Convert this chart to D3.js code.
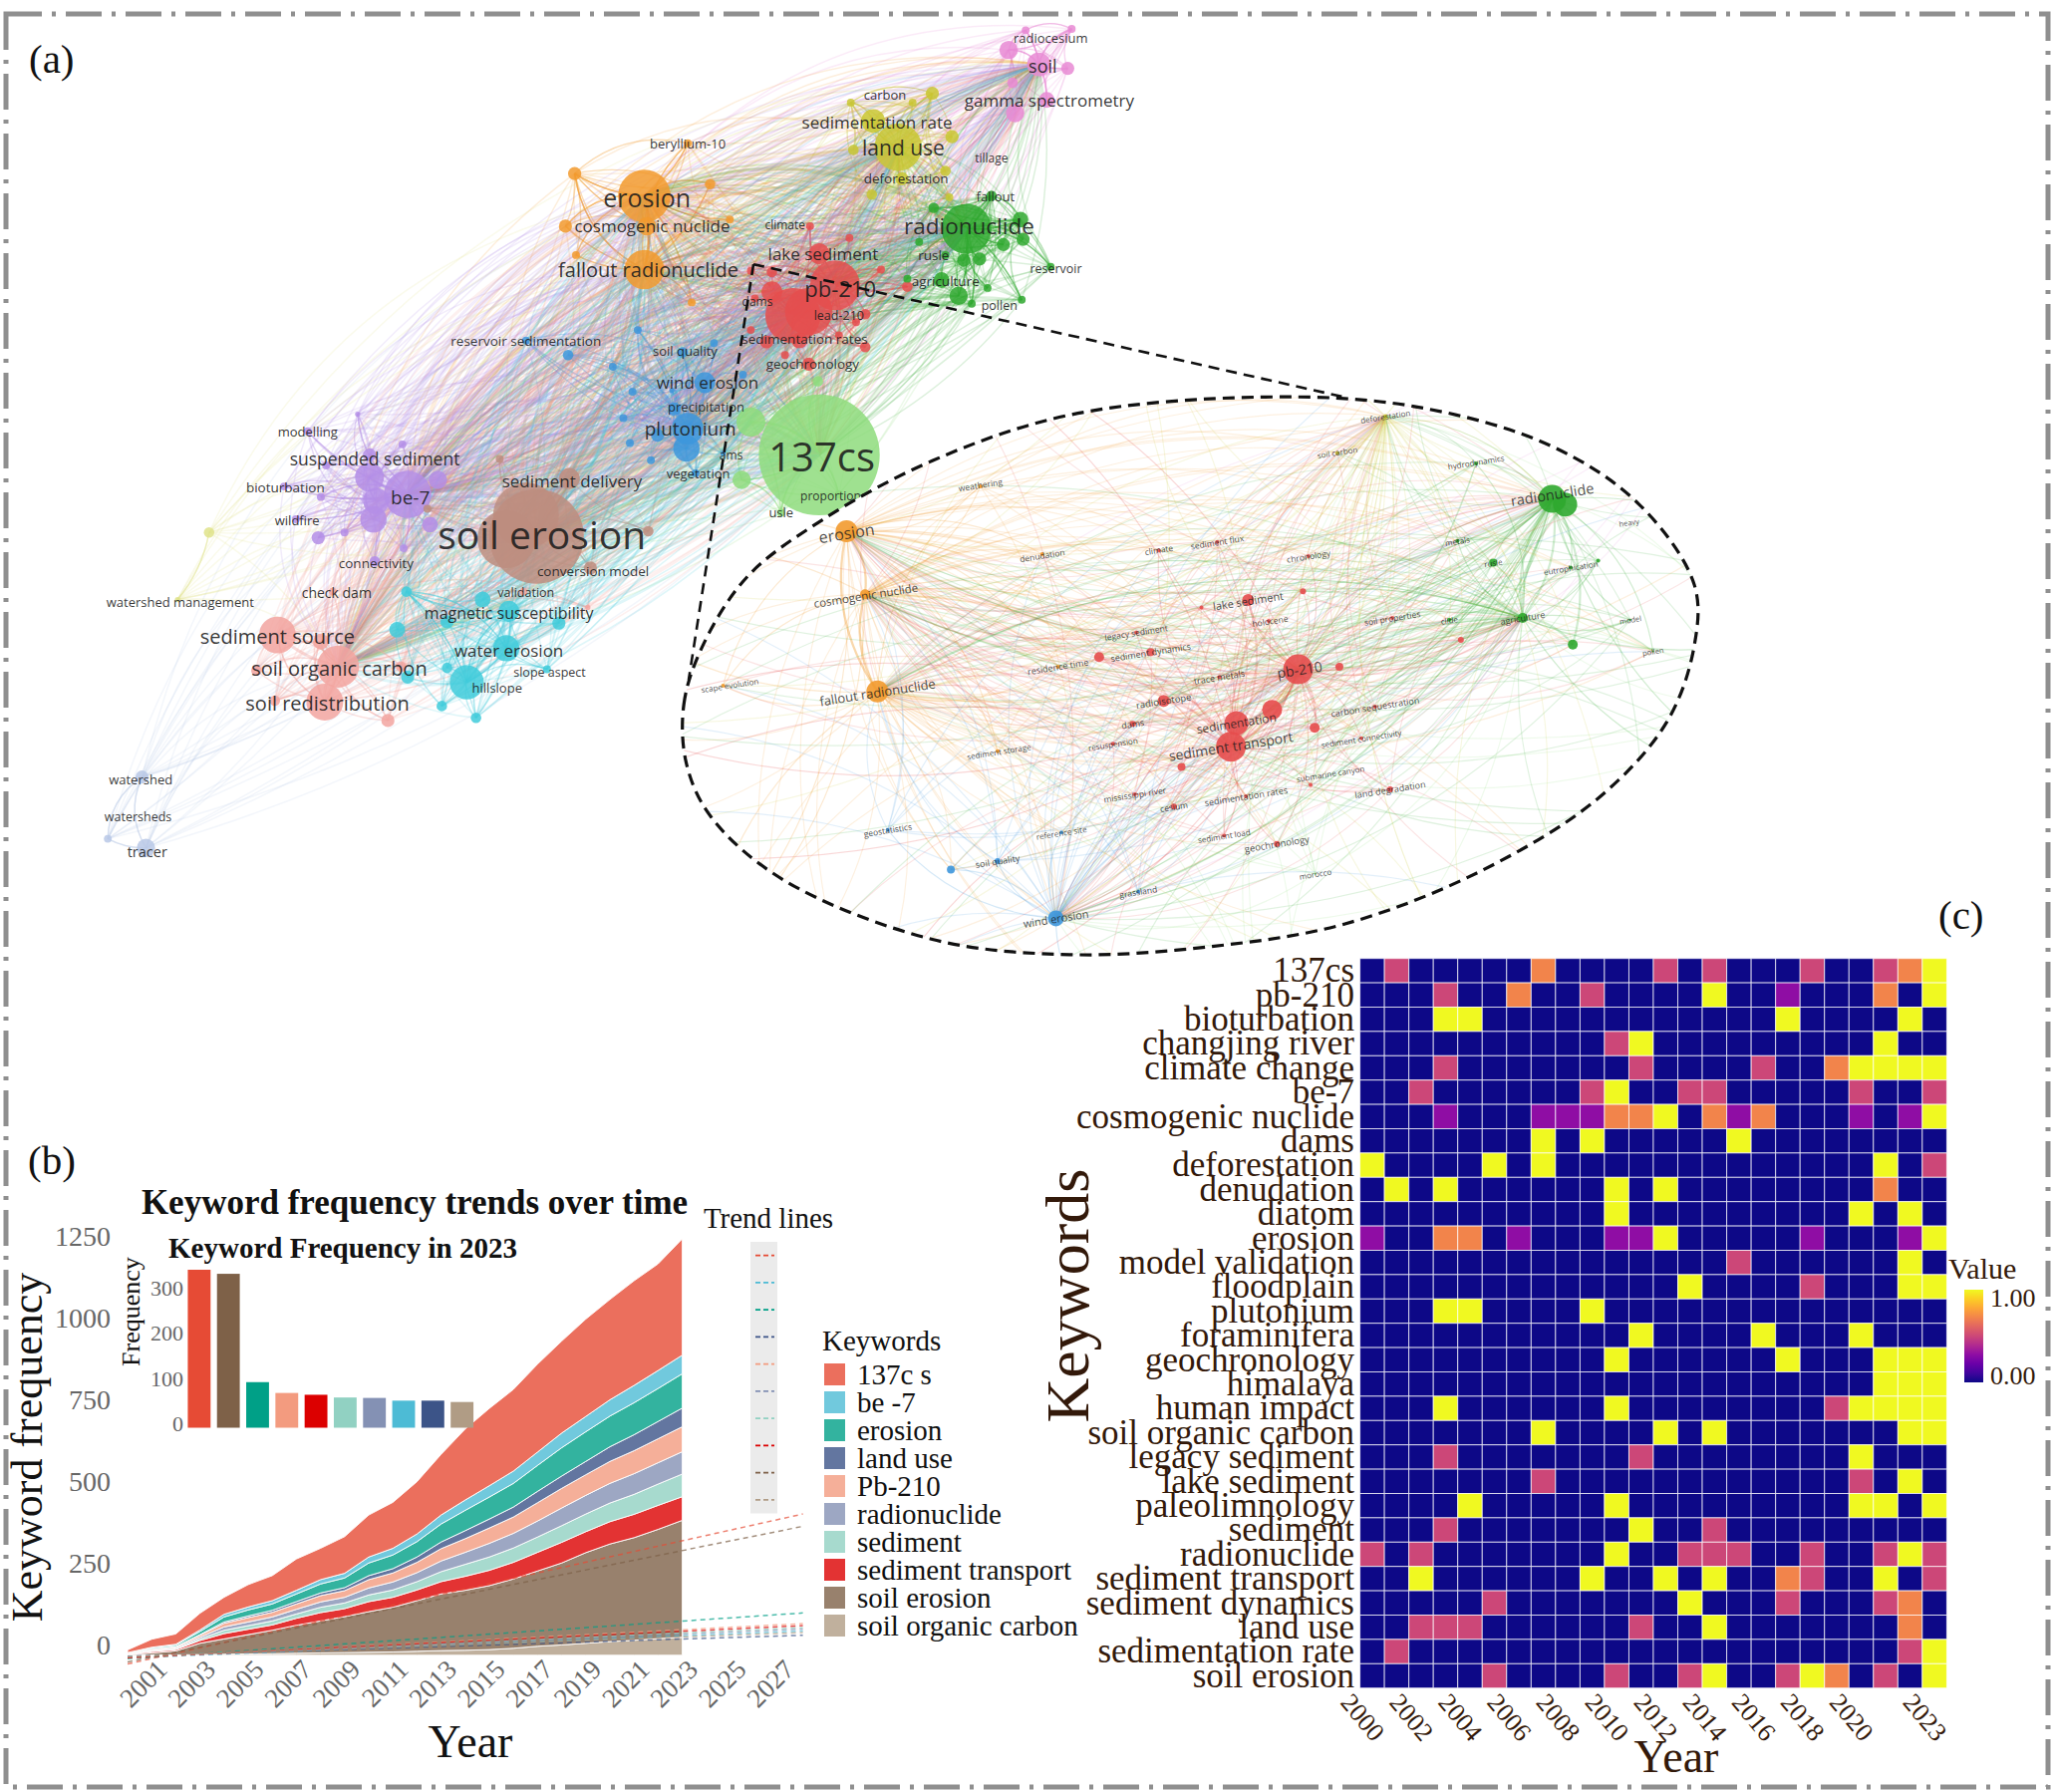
<!DOCTYPE html>
<html>
<head>
<meta charset="utf-8">
<script src="https://cdnjs.cloudflare.com/ajax/libs/d3/7.8.5/d3.min.js"></script>
<style>
  html, body { margin: 0; padding: 0; background: #fff; }
  svg { display: block; }
  text { font-family: "Liberation Serif", serif; }
  .net text { font-family: "Open Sans", sans-serif; fill: #1c1c1c; }
  .axis path, .axis line { display: none; }
</style>
</head>
<body>
<svg id="chart" width="2061" height="1798"></svg>
<script>
// ---- (b) keyword frequency
const years = d3.range(2000, 2024);
const keywords = ["137c s", "be -7", "erosion", "land use", "Pb-210", "radionuclide", "sediment", "sediment transport", "soil erosion", "soil organic carbon"];
const keywordColors = ["#e64b35", "#4dbbd5", "#00a087", "#3c5488", "#f39b7f", "#8491b4", "#91d1c2", "#dc0000", "#7e6148", "#b09c85"];
const freqCs137 = [8, 24, 31, 50, 51, 67, 75, 94, 94, 110, 126, 138, 157, 182, 213, 232, 245, 264, 276, 292, 301, 314, 320, 349];
const freqBe7 = [1, 2, 3, 5, 8, 9, 10, 11, 13, 14, 18, 20, 23, 27, 31, 34, 37, 40, 44, 46, 49, 52, 54, 56];
const freqErosion = [1, 3, 4, 9, 15, 18, 19, 23, 27, 29, 38, 41, 46, 54, 61, 66, 71, 78, 85, 89, 92, 96, 99, 103];
const freqLandUse = [0, 1, 1, 2, 4, 5, 6, 7, 8, 9, 12, 13, 16, 20, 24, 27, 30, 34, 37, 40, 44, 48, 52, 56];
const freqPb210 = [1, 3, 3, 6, 11, 13, 14, 16, 19, 20, 25, 27, 31, 37, 41, 46, 49, 55, 59, 62, 66, 69, 72, 75];
const freqRadionuclide = [1, 2, 3, 5, 10, 11, 12, 14, 16, 17, 21, 24, 27, 32, 36, 41, 44, 48, 53, 56, 59, 62, 64, 67];
const freqSediment = [1, 2, 2, 5, 10, 11, 12, 13, 16, 17, 20, 22, 25, 30, 36, 40, 43, 46, 50, 53, 56, 60, 64, 68];
const freqTransport = [1, 4, 4, 8, 16, 16, 16, 21, 25, 24, 30, 30, 32, 37, 42, 46, 50, 56, 62, 63, 67, 70, 72, 71];
const freqSoilErosion = [2, 6, 12, 34, 46, 58, 70, 84, 96, 108, 122, 134, 152, 170, 180, 192, 208, 226, 246, 272, 293, 308, 328, 351];
const freqSoc = [0, 1, 1, 2, 3, 4, 5, 6, 7, 8, 9, 10, 12, 14, 15, 17, 21, 27, 31, 36, 41, 45, 50, 54];
const freqSeries = [freqCs137, freqBe7, freqErosion, freqLandUse, freqPb210, freqRadionuclide, freqSediment, freqTransport, freqSoilErosion, freqSoc];

// dashed trend lines, value at 2000 and at 2028, same order as keywords
const trendStart = [-26, -8, -10, -3, -8, -6, -5, -7, -20, -4];
const trendEnd = [424, 73, 127, 60, 95, 79, 83, 89, 387, 68];

// inset bars, frequency in 2023
const barOrder = [0, 8, 2, 4, 7, 6, 5, 1, 3, 9];
const barValues = [350, 341, 101, 77, 73, 67, 66, 60, 60, 57];

// ---- (c) heatmap
const heatYears = d3.range(2000, 2024);
const heatTicks = [2000, 2002, 2004, 2006, 2008, 2010, 2012, 2014, 2016, 2018, 2020, 2023];
const heatKeywords = ["137cs", "pb-210", "bioturbation", "changjing river", "climate change", "be-7", "cosmogenic nuclide", "dams", "deforestation", "denudation", "diatom", "erosion", "model validation", "floodplain", "plutonium", "foraminifera", "geochronology", "himalaya", "human impact", "soil organic carbon", "legacy sediment", "lake sediment", "paleolimnology", "sediment", "radionuclide", "sediment transport", "sediment dynamics", "land use", "sedimentation rate", "soil erosion"];
const heatValues = [
  [0, .5, 0, 0, 0, 0, 0, .7, 0, 0, 0, 0, .5, 0, .5, 0, 0, 0, .5, 0, 0, .5, .7, 1],
  [0, 0, 0, .5, 0, 0, .7, 0, 0, .5, 0, 0, 0, 0, 1, 0, 0, .3, 0, 0, 0, .7, 0, 1],
  [0, 0, 0, 1, 1, 0, 0, 0, 0, 0, 0, 0, 0, 0, 0, 0, 0, 1, 0, 0, 0, 0, 1, 0],
  [0, 0, 0, 0, 0, 0, 0, 0, 0, 0, .5, 1, 0, 0, 0, 0, 0, 0, 0, 0, 0, 1, 0, 0],
  [0, 0, 0, .5, 0, 0, 0, 0, 0, 0, 0, .5, 0, 0, 0, 0, .5, 0, 0, .7, 1, 1, 1, 1],
  [0, 0, .5, 0, 0, 0, 0, 0, 0, .5, 1, 0, 0, .5, .5, 0, 0, 0, 0, 0, .5, 0, 0, .5],
  [0, 0, 0, .3, 0, 0, 0, .3, .3, .3, .7, .7, 1, 0, .7, .3, .7, 0, 0, 0, .3, 0, .3, 1],
  [0, 0, 0, 0, 0, 0, 0, 1, 0, 1, 0, 0, 0, 0, 0, 1, 0, 0, 0, 0, 0, 0, 0, 0],
  [1, 0, 0, 0, 0, 1, 0, 1, 0, 0, 0, 0, 0, 0, 0, 0, 0, 0, 0, 0, 0, 1, 0, .5],
  [0, 1, 0, 1, 0, 0, 0, 0, 0, 0, 1, 0, 1, 0, 0, 0, 0, 0, 0, 0, 0, .7, 0, 0],
  [0, 0, 0, 0, 0, 0, 0, 0, 0, 0, 1, 0, 0, 0, 0, 0, 0, 0, 0, 0, 1, 0, 1, 0],
  [.3, 0, 0, .7, .7, 0, .3, 0, 0, 0, .3, .3, 1, 0, 0, 0, 0, 0, .3, 0, 0, 0, .3, 1],
  [0, 0, 0, 0, 0, 0, 0, 0, 0, 0, 0, 0, 0, 0, 0, .5, 0, 0, 0, 0, 0, 0, 1, 0],
  [0, 0, 0, 0, 0, 0, 0, 0, 0, 0, 0, 0, 0, 1, 0, 0, 0, 0, .5, 0, 0, 0, 1, 1],
  [0, 0, 0, 1, 1, 0, 0, 0, 0, 1, 0, 0, 0, 0, 0, 0, 0, 0, 0, 0, 0, 0, 0, 0],
  [0, 0, 0, 0, 0, 0, 0, 0, 0, 0, 0, 1, 0, 0, 0, 0, 1, 0, 0, 0, 1, 0, 0, 0],
  [0, 0, 0, 0, 0, 0, 0, 0, 0, 0, 1, 0, 0, 0, 0, 0, 0, 1, 0, 0, 0, 1, 1, 1],
  [0, 0, 0, 0, 0, 0, 0, 0, 0, 0, 0, 0, 0, 0, 0, 0, 0, 0, 0, 0, 0, 1, 1, 1],
  [0, 0, 0, 1, 0, 0, 0, 0, 0, 0, 1, 0, 0, 0, 0, 0, 0, 0, 0, .5, 1, 1, 1, 1],
  [0, 0, 0, 0, 0, 0, 0, 1, 0, 0, 0, 0, 1, 0, 1, 0, 0, 0, 0, 0, 0, 0, 1, 1],
  [0, 0, 0, .5, 0, 0, 0, 0, 0, 0, 0, .5, 0, 0, 0, 0, 0, 0, 0, 0, 1, 0, 0, 0],
  [0, 0, 0, 0, 0, 0, 0, .5, 0, 0, 0, 0, 0, 0, 0, 0, 0, 0, 0, 0, .5, 0, 1, 0],
  [0, 0, 0, 0, 1, 0, 0, 0, 0, 0, 1, 0, 0, 0, 0, 0, 0, 0, 0, 0, 1, 1, 0, 1],
  [0, 0, 0, .5, 0, 0, 0, 0, 0, 0, 0, 1, 0, 0, .5, 0, 0, 0, 0, 0, 0, 0, 0, 0],
  [.5, 0, .5, 0, 0, 0, 0, 0, 0, 0, 1, 0, 0, .5, .5, .5, 0, 0, .5, 0, 0, .5, 1, .5],
  [0, 0, 1, 0, 0, 0, 0, 0, 0, 1, 0, 0, 1, 0, 1, 0, 0, .7, .5, 0, 0, 1, 0, .5],
  [0, 0, 0, 0, 0, .5, 0, 0, 0, 0, 0, 0, 0, 1, 0, 0, 0, .5, 0, 0, 0, .5, .7, 0],
  [0, 0, .5, .5, .5, 0, 0, 0, 0, 0, 0, .5, 0, 0, 1, 0, 0, 0, 0, 0, 0, 0, .7, 0],
  [0, .5, 0, 0, 0, 0, 0, 0, 0, 0, 0, 0, 0, 0, 0, 0, 0, 0, 0, 0, 0, 0, .5, 1],
  [0, 0, 0, 0, 0, .5, 0, 0, 0, 0, .5, 0, 0, .5, 1, 0, 0, .5, 1, .7, 0, .5, 0, 1]
];

// ---- (a) co-occurrence map: [map x, map y, node radius], first node of a cluster is its hub
const nodesPink = [[790, 49, 9], [767, 38, 7], [780, 23, 3], [815, 22, 3], [812, 52, 5], [770, 63, 4], [796, 76, 6], [772, 86, 7]];
const nodesOlive = [[683, 112, 18], [664, 92, 9], [647, 78, 3], [709, 71, 5], [694, 78, 3], [724, 104, 5], [649, 114, 4], [686, 136, 5], [719, 130, 4], [663, 148, 4], [722, 150, 3]];
const nodesOrange = [[490, 149, 20], [490, 205, 15], [492, 172, 7], [437, 132, 5], [540, 140, 4], [523, 109, 3], [430, 172, 5], [555, 167, 3], [438, 194, 3], [526, 230, 3]];
const nodesGreen = [[735, 174, 19], [754, 149, 4], [710, 158, 4], [776, 167, 6], [778, 182, 5], [763, 186, 5], [745, 197, 5], [733, 198, 5], [699, 184, 3], [719, 194, 3], [716, 213, 6], [729, 225, 7], [751, 219, 3], [777, 228, 3], [799, 203, 3], [739, 231, 3], [690, 212, 3]];
const nodesRed = [[635, 217, 19], [603, 240, 21], [615, 237, 18], [587, 222, 8], [623, 193, 8], [616, 172, 3], [646, 181, 3], [670, 205, 3], [587, 207, 4], [571, 206, 3], [574, 227, 3], [658, 239, 4], [651, 245, 3], [658, 264, 4], [608, 259, 6], [583, 260, 5], [638, 255, 3], [571, 251, 3], [615, 277, 5], [597, 270, 3], [690, 218, 4]];
const nodesBlue = [[523, 326, 12], [522, 341, 10], [536, 291, 8], [513, 311, 5], [400, 259, 3], [432, 270, 4], [485, 251, 3], [466, 279, 3], [519, 268, 4], [543, 261, 3], [565, 285, 3], [481, 298, 3], [511, 297, 2], [474, 318, 3], [479, 337, 3], [495, 350, 3], [500, 331, 5], [529, 360, 3], [550, 345, 2]];
const nodesLight = [[623, 346, 46], [571, 321, 11], [564, 365, 7], [594, 390, 3], [638, 376, 3], [622, 290, 4]];
const nodesPurple = [[310, 376, 18], [286, 381, 10], [281, 363, 11], [284, 395, 10], [281, 346, 5], [333, 365, 7], [234, 328, 3], [272, 315, 2], [306, 338, 3], [248, 354, 3], [216, 370, 3], [244, 378, 3], [225, 395, 3], [327, 399, 6], [242, 409, 5], [262, 405, 3], [307, 417, 3], [285, 427, 4]];
const nodesBrown = [[408, 408, 36], [400, 392, 25], [385, 410, 22], [433, 364, 8], [449, 432, 5], [493, 404, 4], [380, 349, 3], [325, 387, 3]];
const nodesSalmon = [[257, 507, 16], [211, 483, 14], [247, 534, 14], [244, 488, 6], [195, 510, 4], [209, 533, 4], [295, 548, 5], [253, 450, 3], [305, 507, 4], [398, 450, 3], [447, 462, 2]];
const nodesCyan = [[355, 519, 13], [385, 493, 10], [387, 465, 8], [309, 450, 4], [367, 456, 6], [340, 473, 5], [425, 474, 5], [302, 479, 6], [340, 508, 4], [310, 515, 5], [416, 509, 3], [336, 537, 4], [362, 546, 4]];
const nodesPaleBlue = [[111, 645, 7], [108, 591, 5], [82, 638, 3]];
const nodesPaleOlive = [[159, 405, 4], [135, 456, 2]];
const netClusters = [nodesPink, nodesOlive, nodesOrange, nodesGreen, nodesRed, nodesBlue, nodesLight, nodesPurple, nodesBrown, nodesSalmon, nodesCyan, nodesPaleBlue, nodesPaleOlive];
const clusterColors = ["#e78ad4", "#c9c733", "#f29a2e", "#2fa82f", "#e54d4d", "#3d96dc", "#8edc7c", "#b48ee6", "#bd8d7f", "#f2a5a0", "#3fcbdb", "#b8c8e6", "#dfe38a"];
// links are too many to read one by one: every node connects to these hubs, as [cluster, node]
const netHubs = [[6, 0], [8, 0], [4, 0], [4, 1], [2, 0], [2, 1], [3, 0], [1, 0], [7, 0], [9, 0], [0, 0], [5, 0]];

const netLabels = [
  ["radiocesium", 799, 29, 13], ["soil", 793, 50, 18], ["gamma spectrometry", 798, 76, 17], ["carbon", 673, 72, 13],
  ["sedimentation rate", 667, 93, 17], ["land use", 687, 112, 21], ["tillage", 754, 120, 12], ["beryllium-10", 523, 109, 13],
  ["deforestation", 689, 136, 13.5], ["fallout", 757, 149, 13], ["erosion", 492, 150, 25], ["cosmogenic nuclide", 496, 172, 17],
  ["climate", 597, 171, 12], ["radionuclide", 737, 172, 22.5], ["lake sediment", 626, 193, 17], ["rusle", 710, 194, 13.5],
  ["fallout radionuclide", 493, 205, 20], ["reservoir", 803, 204, 12.5], ["pb-210", 639, 219, 22], ["agriculture", 719, 214, 13.5],
  ["dams", 576, 229, 12], ["pollen", 760, 232, 12.5], ["lead-210", 638, 240, 12.5], ["sedimentation rates", 612, 258, 13.5],
  ["reservoir sedimentation", 400, 259, 13.5], ["soil quality", 521, 267, 13], ["geochronology", 618, 277, 13.5], ["wind erosion", 538, 291, 17],
  ["precipitation", 537, 309, 13], ["plutonium", 525, 326, 19], ["modelling", 234, 328, 13], ["137cs", 625, 347, 40],
  ["suspended sediment", 285, 349, 17.5], ["ams", 556, 346, 12], ["vegetation", 531, 360, 13], ["sediment delivery", 435, 366, 17],
  ["bioturbation", 217, 371, 13.5], ["be-7", 312, 378, 19], ["proportional model", 650, 377, 12], ["usle", 594, 390, 13],
  ["wildfire", 226, 396, 13], ["soil erosion", 412, 406, 39], ["connectivity", 286, 428, 13.5], ["conversion model", 451, 434, 13.5],
  ["check dam", 256, 451, 14], ["validation", 400, 451, 12.5], ["watershed management", 137, 458, 13], ["magnetic susceptibility", 387, 466, 16],
  ["sediment source", 211, 484, 20], ["water erosion", 387, 495, 17], ["slope aspect", 418, 511, 12.5], ["soil organic carbon", 258, 508, 20],
  ["hillslope", 378, 523, 13], ["soil redistribution", 249, 535, 20], ["watershed", 107, 593, 13], ["watersheds", 105, 621, 12.5], ["tracer", 112, 648, 14.5]
];

// magnified part of the map: [zoom x, zoom y, node radius, cluster]
const lensNodes = [
  [275, 400, 11, 2], [320, 820, 11, 2], [302, 565, 5, 2], [95, 805, 2, 2], [470, 282, 2, 2], [560, 460, 2, 2], [495, 977, 2, 2], [583, 755, 2, 2],
  [933, 762, 15, 4], [835, 965, 15, 4], [843, 903, 12, 4], [895, 868, 10, 4], [860, 580, 6, 4], [737, 845, 6, 4], [718, 717, 4, 4], [643, 730, 5, 4],
  [993, 755, 4, 4], [957, 915, 5, 4], [763, 1018, 4, 4], [940, 557, 3, 4], [792, 600, 2, 4], [730, 450, 2, 4], [815, 428, 2, 4], [948, 465, 2, 4],
  [890, 635, 2, 4], [697, 665, 2, 4], [818, 782, 2, 4], [692, 905, 3, 4], [1045, 860, 2, 4], [1025, 943, 2, 4], [663, 957, 2, 4], [951, 1065, 2, 4],
  [1067, 1077, 3, 4], [857, 1095, 2, 4], [695, 1090, 2, 4], [752, 1122, 3, 4], [825, 1198, 2, 4], [902, 1220, 3, 4], [1070, 627, 2, 4], [1170, 685, 3, 4],
  [1303, 315, 14, 3], [1322, 330, 12, 3], [1192, 222, 2, 3], [1165, 425, 2, 3], [1217, 482, 4, 3], [1330, 495, 2, 3], [1370, 477, 2, 3], [1153, 632, 2, 3],
  [1260, 627, 5, 3], [1333, 697, 5, 3], [1417, 632, 1, 3], [1450, 715, 1, 3], [958, 1298, 1, 6],
  [990, 195, 2, 1], [1060, 98, 2, 1],
  [580, 1415, 8, 5], [495, 1265, 3, 5], [427, 1287, 4, 5], [335, 1183, 2, 5], [588, 1190, 2, 5], [700, 1345, 2, 5]
];
const lensHubs = [0, 1, 2, 8, 9, 40, 48, 54, 55];
// hidden ends of links that leave the magnified region: [zoom x, zoom y, cluster]
const lensExits = [[-200, 1200, 4], [60, 1550, 2], [300, 1700, 4], [900, 1800, 6], [1400, 1500, 6], [1750, 600, 3], [1100, -120, 1], [400, -120, 4], [-150, 500, 2], [1650, 1100, 3], [650, 1700, 5], [1500, 60, 0], [-100, 900, 4], [1200, 1650, 1], [1700, 250, 6], [700, -150, 1], [180, 1600, 8], [1650, 850, 6]];
const lensLabels = [
  ["erosion", 275, 405, 16], ["cosmogenic nuclide", 303, 568, 11.5], ["fallout radionuclide", 320, 822, 13], ["scape evolution", 105, 803, 8], ["weathering", 470, 278, 8.5],
  ["denudation", 560, 463, 8.5], ["sediment storage", 497, 977, 8], ["residence time", 583, 755, 9], ["climate", 730, 448, 8.5], ["sediment flux", 815, 428, 8.5],
  ["chronology", 948, 465, 8.5], ["lake sediment", 860, 582, 11], ["holocene", 892, 635, 8.5], ["legacy sediment", 697, 665, 8.5], ["sediment dynamics", 718, 717, 9],
  ["trace metals", 818, 782, 9], ["pb-210", 935, 762, 14], ["radioisotope", 737, 845, 9.5], ["sedimentation", 843, 903, 12], ["dams", 692, 905, 9],
  ["sediment transport", 835, 963, 14], ["carbon sequestration", 1045, 860, 9], ["sediment connectivity", 1025, 943, 8], ["resuspension", 663, 957, 8], ["submarine canyon", 980, 1035, 8],
  ["land degradation", 1067, 1077, 9], ["sedimentation rates", 857, 1095, 9], ["mississippi river", 695, 1090, 8.5], ["cesium", 752, 1122, 8.5], ["sediment load", 825, 1198, 8],
  ["geochronology", 902, 1220, 9.5], ["morocco", 958, 1298, 8], ["soil properties", 1070, 627, 8.5], ["radionuclide", 1303, 303, 14.5], ["hydrodynamics", 1192, 218, 8],
  ["soil carbon", 990, 192, 8], ["deforestation", 1060, 98, 8], ["metals", 1165, 425, 8], ["rusle", 1217, 482, 8], ["eutrophication", 1330, 495, 8],
  ["clide", 1153, 632, 8], ["agriculture", 1260, 627, 9], ["model", 1417, 632, 7.5], ["pollen", 1450, 715, 7.5], ["heavy", 1415, 377, 7.5],
  ["geostatistics", 335, 1183, 8.5], ["reference site", 588, 1190, 8], ["soil quality", 495, 1265, 9], ["grassland", 700, 1345, 8.5], ["wind erosion", 580, 1415, 11]
];
// dashed outline of the magnified region, zoom coordinates
const lensOutline = [[42, 1011], [38, 854], [64, 706], [130, 520], [240, 370], [400, 215], [600, 95], [880, 48], [1100, 72], [1300, 175], [1430, 330], [1510, 540], [1510, 700], [1470, 900], [1370, 1100], [1200, 1290], [1000, 1430], [800, 1490], [600, 1510], [400, 1470], [183, 1314], [78, 1150]];
// where the two guide lines leave the map and meet the outline
const guideFrom = [573, 201];
const guideTo = [[1005, 50], [45, 790]];

const svg = d3.select("#chart");
const serif = "'Liberation Serif', serif";

// curved link: side 1 bulges to the upper left, side -1 to the lower right
function arc(x1, y1, x2, y2, side, up, down) {
  let nx = -(y2 - y1), ny = x2 - x1;
  if (nx + ny > 0) { nx = -nx; ny = -ny; }
  const b = side > 0 ? up : -down;
  return `M${x1},${y1}Q${(x1 + x2) / 2 + nx * b},${(y1 + y2) / 2 + ny * b} ${x2},${y2}`;
}

function drawMap() {
  const mapScale = d3.scaleLinear().domain([0, 1562]).range([0, 2061]);
  const mapY = d3.scaleLinear().domain([0, 1363]).range([0, 1798]);
  const g = svg.append("g").attr("class", "net");

  const allNodes = [];
  netClusters.forEach((nodes, c) => nodes.forEach((n, i) => allNodes.push({ x: mapScale(n[0]), y: mapY(n[1]), r: mapScale(n[2]), c, i })));
  const hubs = netHubs.map((h) => allNodes.find((n) => n.c === h[0] && n.i === h[1]));

  const links = [];
  allNodes.forEach((n, k) => {
    hubs.forEach((h, j) => {
      if (h === n) return;
      links.push({ a: n, b: h, side: (k + j) % 2 ? 1 : -1, w: n.r > 12 && h.r > 12 ? 3 : 1.5, o: h.c === n.c ? 0.4 : 0.17 });
    });
    netClusters[n.c].slice(0, 4).forEach((m, j) => {
      if (j === n.i) return;
      const o = allNodes.find((q) => q.c === n.c && q.i === j);
      links.push({ a: n, b: o, side: (k + j) % 2 ? 1 : -1, w: 1.4, o: 0.35 });
    });
  });

  g.append("g").attr("fill", "none").selectAll("path").data(links).join("path")
    .attr("d", (d) => arc(d.a.x, d.a.y, d.b.x, d.b.y, d.side, 0.26, 0.13))
    .attr("stroke", (d) => clusterColors[d.a.c])
    .attr("stroke-width", (d) => d.w)
    .attr("stroke-opacity", (d) => d.o);

  g.append("g").selectAll("circle").data(allNodes.slice().sort((a, b) => b.r - a.r)).join("circle")
    .attr("cx", (d) => d.x).attr("cy", (d) => d.y).attr("r", (d) => d.r)
    .attr("fill", (d) => clusterColors[d.c]).attr("fill-opacity", 0.85);

  g.append("g").selectAll("text").data(netLabels).join("text")
    .attr("x", (d) => mapScale(d[1])).attr("y", (d) => mapY(d[2]))
    .attr("text-anchor", "middle").attr("dominant-baseline", "central")
    .attr("font-size", (d) => d[3]).attr("fill-opacity", 0.9)
    .text((d) => d[0]);

  // magnified region
  const zx = d3.scaleLinear().domain([0, 1568]).range([660, 1740]);
  const zy = d3.scaleLinear().domain([0, 1568]).range([380, 980]);
  const outline = d3.line().x((d) => zx(d[0])).y((d) => zy(d[1])).curve(d3.curveCatmullRomClosed);

  svg.append("clipPath").attr("id", "lens-clip").append("path").attr("d", outline(lensOutline));
  const lens = svg.append("g").attr("class", "net");
  lens.append("path").attr("d", outline(lensOutline)).attr("fill", "#fff");

  const inner = lens.append("g").attr("clip-path", "url(#lens-clip)");
  const lensPts = lensNodes.map((n) => ({ x: zx(n[0]), y: zy(n[1]), r: n[2], c: n[3] }));
  const exits = lensExits.map((n) => ({ x: zx(n[0]), y: zy(n[1]), r: 0, c: n[2] }));
  const lensLinks = [];
  lensPts.concat(exits).forEach((n, k) => {
    lensHubs.forEach((h, j) => {
      const hub = lensPts[h];
      if (hub === n) return;
      const same = hub.c === n.c;
      lensLinks.push({ a: n, b: hub, side: (k + j) % 2 ? 1 : -1, c: same ? hub.c : k % 2 ? hub.c : n.c, o: same ? 0.22 : 0.15, w: same && n.r > 4 ? 2.2 : 1.2 });
    });
  });
  inner.append("g").attr("fill", "none").selectAll("path").data(lensLinks).join("path")
    .attr("d", (d) => arc(d.a.x, d.a.y, d.b.x, d.b.y, d.side, 0.22, 0.22))
    .attr("stroke", (d) => clusterColors[d.c])
    .attr("stroke-width", (d) => d.w)
    .attr("stroke-opacity", (d) => d.o);
  inner.append("g").selectAll("circle").data(lensPts).join("circle")
    .attr("cx", (d) => d.x).attr("cy", (d) => d.y).attr("r", (d) => d.r)
    .attr("fill", (d) => clusterColors[d.c]).attr("fill-opacity", 0.9);
  inner.append("g").selectAll("text").data(lensLabels).join("text")
    .attr("transform", (d) => `translate(${zx(d[1])},${zy(d[2])}) rotate(-9)`)
    .attr("text-anchor", "middle").attr("dominant-baseline", "central")
    .attr("font-size", (d) => d[3]).attr("fill-opacity", 0.8)
    .text((d) => d[0]);

  lens.append("path").attr("d", outline(lensOutline))
    .attr("fill", "none").attr("stroke", "#111").attr("stroke-width", 3.2).attr("stroke-dasharray", "12 7");
  lens.selectAll(".guide").data(guideTo).join("line").attr("class", "guide")
    .attr("x1", mapScale(guideFrom[0])).attr("y1", mapY(guideFrom[1]))
    .attr("x2", (d) => zx(d[0])).attr("y2", (d) => zy(d[1]))
    .attr("stroke", "#111").attr("stroke-width", 2.6).attr("stroke-dasharray", "11 7");
}

function drawAreas() {
  const x = d3.scaleLinear().domain([2000, 2028]).range([128, 805.6]);
  const y = d3.scaleLinear().domain([0, 1250]).range([1660.8, 1243]);
  // the tick labels of the reference sit slightly above the area baseline
  const yTick = d3.scaleLinear().domain([0, 1250]).range([1651, 1241]);

  const table = years.map((yr, i) => {
    const row = { year: yr };
    keywords.forEach((k, j) => { row[k] = freqSeries[j][i]; });
    return row;
  });
  const stack = d3.stack().keys(keywords.slice().reverse())(table);
  const area = d3.area().x((d) => x(d.data.year)).y0((d) => y(d[0])).y1((d) => y(d[1]));
  const color = d3.scaleOrdinal().domain(keywords).range(keywordColors);

  svg.append("g").selectAll("path").data(stack).join("path")
    .attr("d", area).attr("fill", (d) => color(d.key)).attr("fill-opacity", 0.8)
    .attr("stroke", "#fff").attr("stroke-width", 1).attr("stroke-opacity", 0.9);

  svg.append("g").attr("fill", "none").selectAll("line").data(keywords).join("line")
    .attr("x1", x(2000)).attr("x2", x(2028))
    .attr("y1", (d, i) => y(trendStart[i])).attr("y2", (d, i) => y(trendEnd[i]))
    .attr("stroke", (d) => color(d)).attr("stroke-width", 1.5).attr("stroke-opacity", 0.7)
    .attr("stroke-dasharray", "5 4");

  const yAxis = svg.append("g").attr("class", "axis").attr("transform", "translate(111,0)")
    .call(d3.axisLeft(yTick).tickValues([0, 250, 500, 750, 1000, 1250]).tickFormat(d3.format("d")).tickSize(0).tickPadding(0));
  yAxis.selectAll("text").attr("font-size", 28).attr("font-family", serif).attr("fill", "#666");

  const xAxis = svg.append("g").attr("class", "axis").attr("transform", "translate(0,1668)")
    .call(d3.axisBottom(x).tickValues(d3.range(2001, 2028, 2)).tickFormat(d3.format("d")).tickSize(0));
  xAxis.selectAll("text").attr("font-size", 27).attr("font-family", serif).attr("fill", "#666")
    .attr("y", 0).attr("dy", ".35em").attr("text-anchor", "end")
    .attr("transform", "translate(10,2) rotate(-45)");

  svg.append("text").attr("x", 472).attr("y", 1763).attr("text-anchor", "middle").attr("font-size", 46).attr("fill", "#111").text("Year");
  svg.append("text").attr("transform", "translate(42,1452) rotate(-90)").attr("text-anchor", "middle").attr("font-size", 44).attr("fill", "#111").text("Keyword frequency");
  svg.append("text").attr("x", 416).attr("y", 1218).attr("text-anchor", "middle").attr("font-size", 35).attr("font-weight", "bold").attr("fill", "#111").text("Keyword frequency trends over time");

  // inset bar chart
  const bx = d3.scaleBand().domain(d3.range(barValues.length)).range([185.5, 478]).paddingInner(0.22).paddingOuter(0.1);
  const by = d3.scaleLinear().domain([0, 350]).range([1432.5, 1274]);
  svg.append("g").selectAll("rect").data(barValues).join("rect")
    .attr("x", (d, i) => bx(i)).attr("width", bx.bandwidth())
    .attr("y", (d) => by(d)).attr("height", (d) => by(0) - by(d))
    .attr("fill", (d, i) => keywordColors[barOrder[i]]);
  const barAxis = svg.append("g").attr("class", "axis").attr("transform", "translate(184,-4)")
    .call(d3.axisLeft(by).tickValues([0, 100, 200, 300]).tickSize(0).tickPadding(0));
  barAxis.selectAll("text").attr("font-size", 22).attr("font-family", serif).attr("fill", "#666");
  svg.append("text").attr("transform", "translate(140,1316) rotate(-90)").attr("text-anchor", "middle").attr("font-size", 26).attr("fill", "#111").text("Frequency");
  svg.append("text").attr("x", 344).attr("y", 1262).attr("text-anchor", "middle").attr("font-size", 29).attr("font-weight", "bold").attr("fill", "#111").text("Keyword Frequency in 2023");

  // trend line key
  const trendKey = d3.scaleBand().domain(keywords).range([1246, 1518.5]);
  svg.append("rect").attr("x", 753).attr("y", 1246).attr("width", 27).attr("height", 272.5).attr("fill", "#ebebeb");
  svg.append("g").selectAll("line").data(keywords).join("line")
    .attr("x1", 758).attr("x2", 777)
    .attr("y1", (d) => trendKey(d) + trendKey.bandwidth() / 2).attr("y2", (d) => trendKey(d) + trendKey.bandwidth() / 2)
    .attr("stroke", (d) => color(d)).attr("stroke-width", 1.6).attr("stroke-dasharray", "5 3");
  svg.append("text").attr("x", 771).attr("y", 1232).attr("text-anchor", "middle").attr("font-size", 29).attr("fill", "#111").text("Trend lines");

  // area key
  const key = d3.scaleBand().domain(keywords).range([1365, 1645]);
  svg.append("text").attr("x", 825).attr("y", 1355).attr("font-size", 29).attr("fill", "#111").text("Keywords");
  const items = svg.append("g").selectAll("g").data(keywords).join("g")
    .attr("transform", (d) => `translate(827,${key(d)})`);
  items.append("rect").attr("width", 21).attr("y", 3).attr("height", 22).attr("fill", (d) => color(d)).attr("fill-opacity", 0.8);
  items.append("text").attr("x", 33).attr("y", 14).attr("dy", ".35em").attr("font-size", 29).attr("fill", "#111").text((d) => d);
}

function drawHeatmap() {
  const x = d3.scaleBand().domain(heatYears).range([1364.6, 1953.4]);
  const y = d3.scaleBand().domain(heatKeywords).range([961.7, 1693.7]);
  const color = d3.scaleSequential(d3.interpolatePlasma).domain([0, 1]);

  const cells = [];
  heatKeywords.forEach((k, r) => heatYears.forEach((yr, c) => cells.push({ k, yr, v: heatValues[r][c] })));
  svg.append("g").selectAll("rect").data(cells).join("rect")
    .attr("x", (d) => x(d.yr)).attr("y", (d) => y(d.k))
    .attr("width", x.bandwidth()).attr("height", y.bandwidth())
    .attr("fill", (d) => color(d.v))
    .attr("stroke", "#fff").attr("stroke-opacity", 0.7).attr("stroke-width", 1);

  const brown = "#33190a";
  const yAxis = svg.append("g").attr("class", "axis").attr("transform", "translate(1359,0)")
    .call(d3.axisLeft(y).tickSize(0).tickPadding(0));
  yAxis.selectAll("text").attr("font-size", 35).attr("font-family", serif).attr("fill", brown);

  const xAxis = svg.append("g").attr("class", "axis").attr("transform", "translate(0,1694)")
    .call(d3.axisBottom(x).tickValues(heatTicks).tickSize(0));
  xAxis.selectAll("text").attr("font-size", 26).attr("font-family", serif).attr("fill", brown)
    .attr("y", 0).attr("dy", ".35em").attr("text-anchor", "start")
    .attr("transform", "translate(-26,9) rotate(50)");

  svg.append("text").attr("x", 1682).attr("y", 1778).attr("text-anchor", "middle").attr("font-size", 46).attr("fill", brown).text("Year");
  svg.append("text").attr("transform", "translate(1092,1300) rotate(-90)").attr("text-anchor", "middle").attr("font-size", 62).attr("fill", brown).text("Keywords");

  // colour bar
  const grad = svg.append("defs").append("linearGradient").attr("id", "plasma").attr("x1", 0).attr("x2", 0).attr("y1", 1).attr("y2", 0);
  d3.range(0, 1.01, 0.1).forEach((t) => grad.append("stop").attr("offset", t).attr("stop-color", color(t)));
  svg.append("rect").attr("x", 1971).attr("y", 1294).attr("width", 19).attr("height", 93).attr("fill", "url(#plasma)");
  svg.append("text").attr("x", 1955).attr("y", 1283).attr("font-size", 30).attr("fill", brown).text("Value");
  const bar = d3.scaleLinear().domain([0, 1]).range([1380, 1302]);
  svg.append("g").attr("class", "axis").attr("transform", "translate(1997,0)")
    .call(d3.axisRight(bar).tickValues([0, 1]).tickFormat(d3.format(".2f")).tickSize(0).tickPadding(0))
    .selectAll("text").attr("font-size", 26).attr("font-family", serif).attr("fill", brown);
}

function drawFrame() {
  svg.append("rect").attr("x", 6).attr("y", 14).attr("width", 2049).attr("height", 1779)
    .attr("fill", "none").attr("stroke", "#8f8f8f").attr("stroke-width", 5).attr("stroke-dasharray", "36 10 4 10");
  const panels = [["(a)", 29, 73], ["(b)", 28, 1178], ["(c)", 1945, 932]];
  svg.append("g").selectAll("text").data(panels).join("text")
    .attr("x", (d) => d[1]).attr("y", (d) => d[2]).attr("font-size", 41).attr("fill", "#111").text((d) => d[0]);
}

drawMap();
drawAreas();
drawHeatmap();
drawFrame();
</script>
</body>
</html>
